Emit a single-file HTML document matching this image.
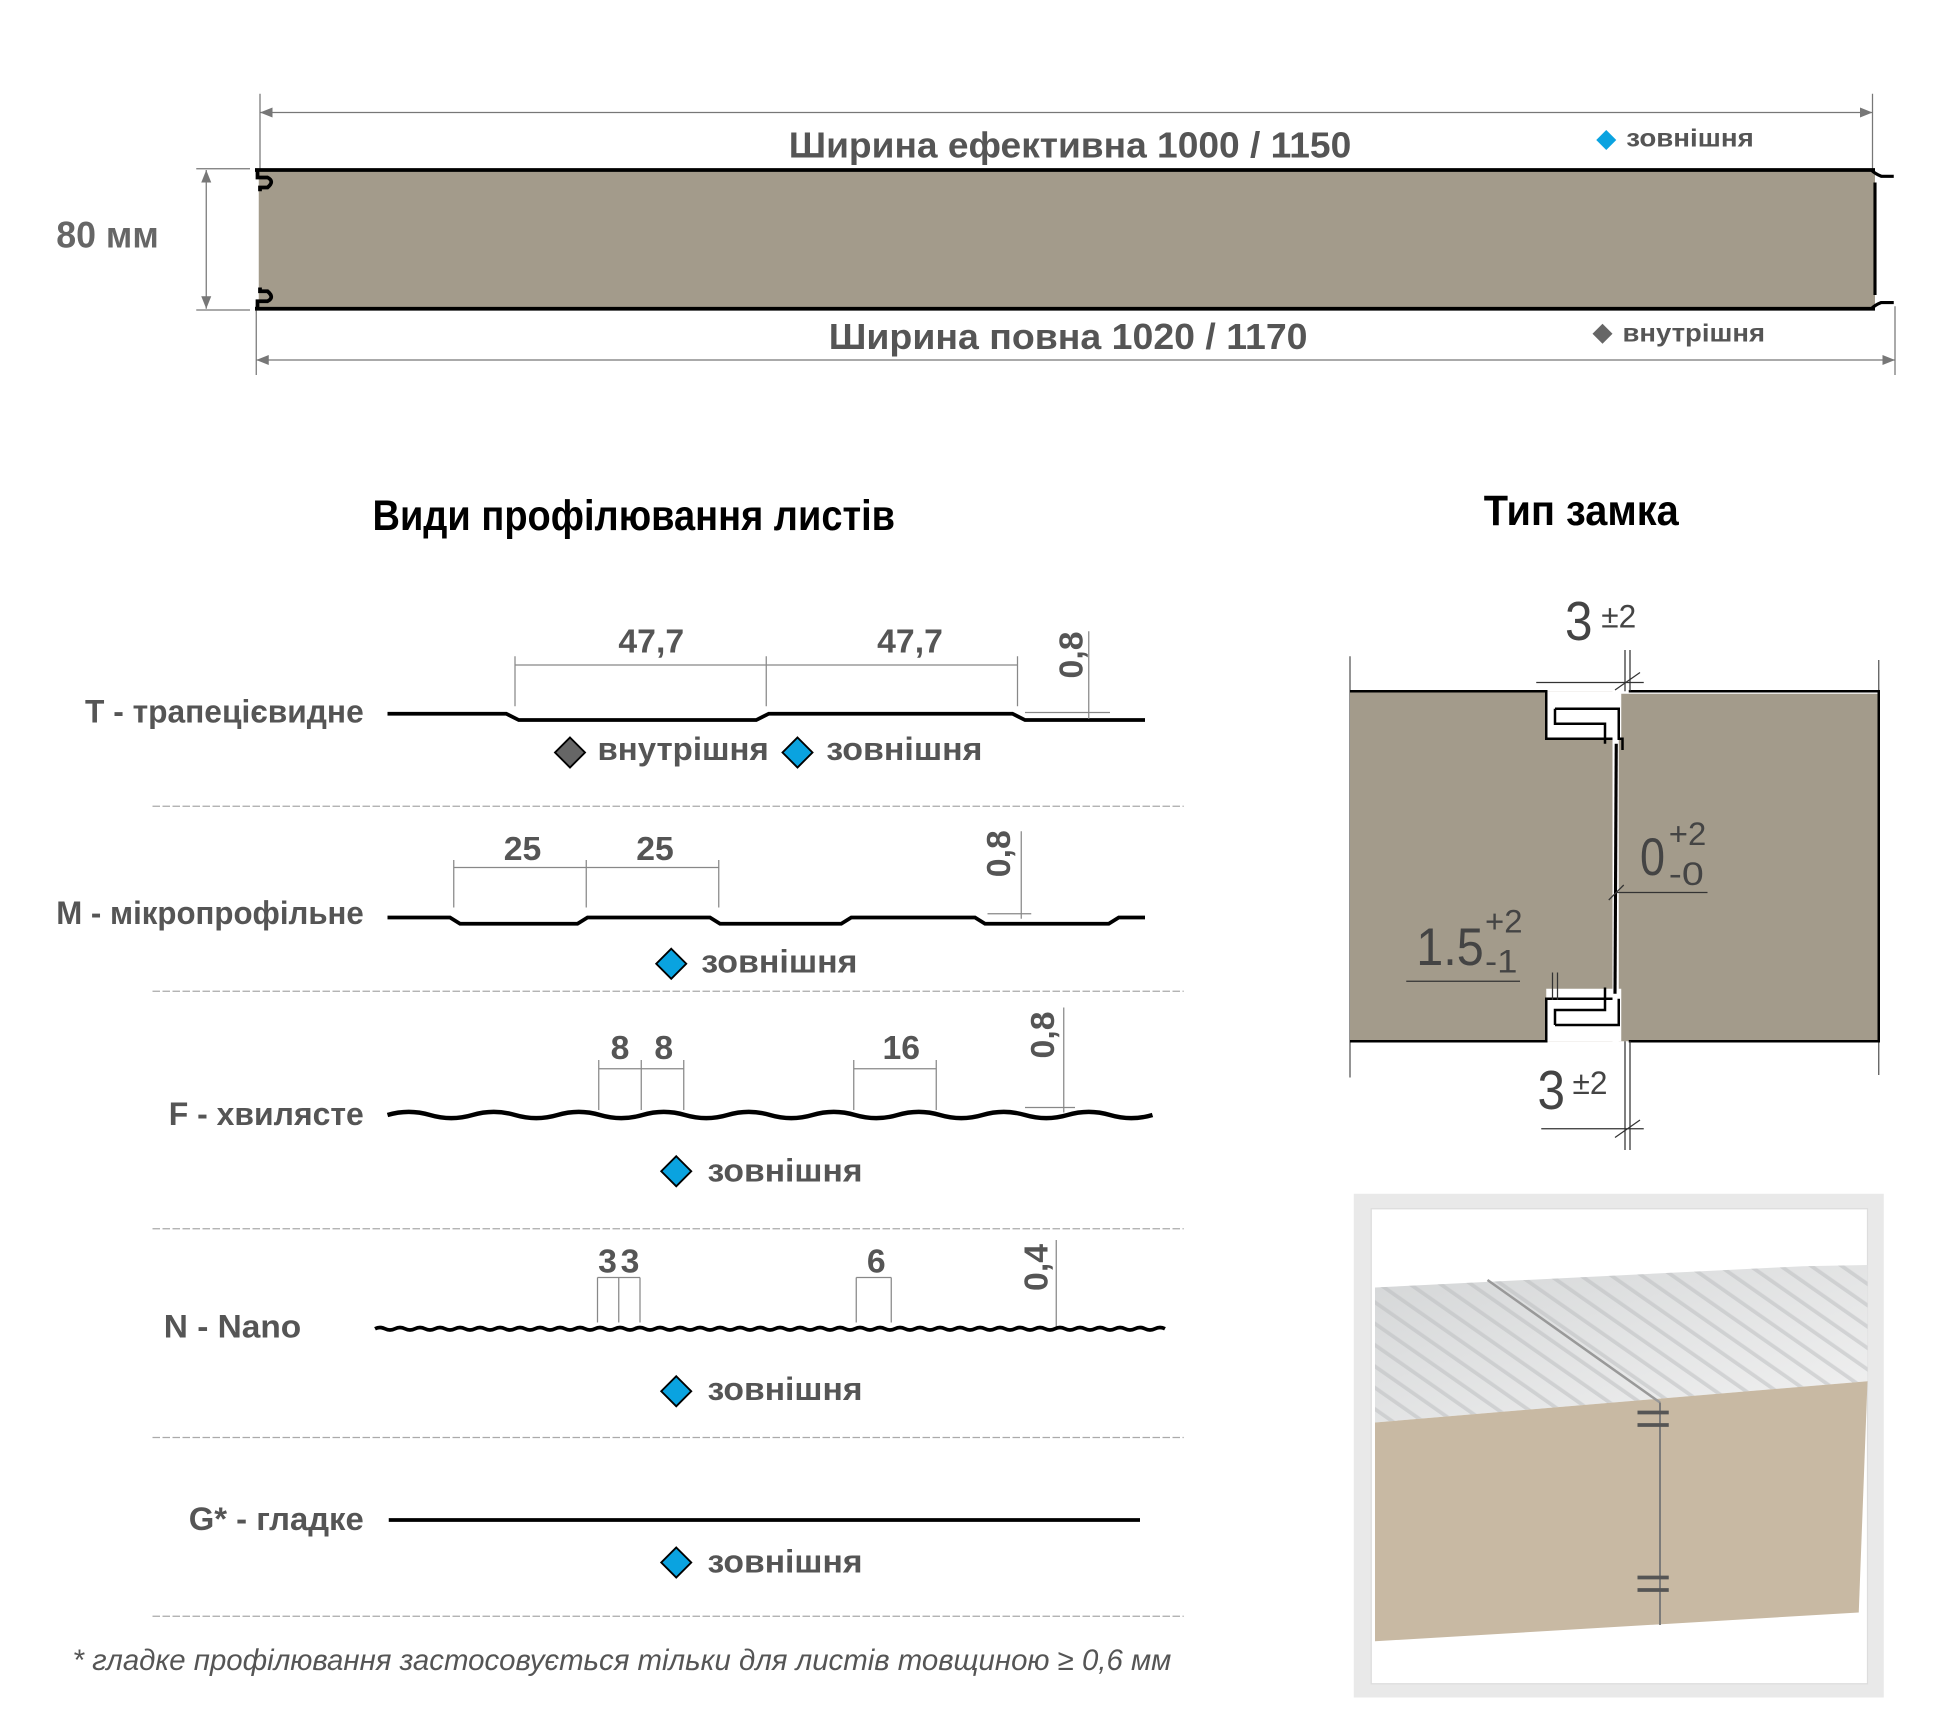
<!DOCTYPE html>
<html><head><meta charset="utf-8"><style>
html,body{margin:0;padding:0;background:#fff;}
svg{display:block;}
text{font-family:"Liberation Sans",sans-serif;}
</style></head><body>
<svg width="1940" height="1735" viewBox="0 0 1552 1388" xmlns="http://www.w3.org/2000/svg">
<defs>
<linearGradient id="top" x1="0" y1="0" x2="1" y2="1"><stop offset="0" stop-color="#d4d6d7"/><stop offset="1" stop-color="#f2f2f2"/></linearGradient>
<pattern id="stripe" width="14" height="14" patternUnits="userSpaceOnUse" patternTransform="rotate(-55)"><rect width="3" height="14" fill="#b9bbbd" opacity="0.5"/></pattern>
</defs>
<!-- TOP PANEL -->
<g stroke="#777" stroke-width="1" fill="none">
<line x1="208" y1="90" x2="1498" y2="90"/><line x1="208" y1="75" x2="208" y2="155"/><line x1="1498" y1="75" x2="1498" y2="155"/>
<line x1="205" y1="288" x2="1516" y2="288"/><line x1="205" y1="245" x2="205" y2="300"/><line x1="1516" y1="245" x2="1516" y2="300"/>
<line x1="165" y1="136" x2="165" y2="247"/><line x1="157" y1="135" x2="200" y2="135"/><line x1="157" y1="248" x2="200" y2="248"/>
</g>
<g fill="#777">
<path d="M208 90 l10 -4 v8z"/><path d="M1498 90 l-10 -4 v8z"/>
<path d="M205 288 l10 -4 v8z"/><path d="M1516 288 l-10 -4 v8z"/>
<path d="M165 136 l-4 10 h8z"/><path d="M165 247 l-4 -10 h8z"/>
</g>
<rect x="207" y="136" width="1293" height="112" fill="#a39b8b"/>
<line x1="204" y1="136" x2="1500" y2="136" stroke="#000" stroke-width="3"/>
<line x1="204" y1="247" x2="1500" y2="247" stroke="#000" stroke-width="3"/>
<path d="M206 136 v6 h8 q6 3 0 8 h-6 v3" stroke="#000" stroke-width="3" fill="none"/>
<path d="M206 247 v-6 h8 q6 -3 0 -8 h-6 v-3" stroke="#000" stroke-width="3" fill="none"/>
<path d="M1497 136 q3 3 8 5 h10 M1500 146 v90 M1497 247 q3 -3 8 -5 h10" stroke="#000" stroke-width="2.5" fill="none"/>
<text x="631" y="126" font-size="29" font-weight="bold" fill="#555" textLength="450" lengthAdjust="spacingAndGlyphs">Ширина ефективна 1000 / 1150</text>
<text x="663" y="279" font-size="29" font-weight="bold" fill="#555" textLength="383" lengthAdjust="spacingAndGlyphs">Ширина повна 1020 / 1170</text>
<text x="45" y="198" font-size="30" font-weight="bold" fill="#666" textLength="82" lengthAdjust="spacingAndGlyphs">80 мм</text>
<path d="M1285 104 l8 8 -8 8 -8 -8z" fill="#0aa3e0"/>
<text x="1301" y="117" font-size="20" font-weight="bold" fill="#555" textLength="102" lengthAdjust="spacingAndGlyphs">зовнішня</text>
<path d="M1282 259 l8 8 -8 8 -8 -8z" fill="#666"/>
<text x="1298" y="273" font-size="20" font-weight="bold" fill="#555" textLength="114" lengthAdjust="spacingAndGlyphs">внутрішня</text>

<!-- TITLES -->
<text x="298" y="424" font-size="34" font-weight="bold" fill="#000" textLength="418" lengthAdjust="spacingAndGlyphs">Види профілювання листів</text>
<text x="1187" y="420" font-size="34" font-weight="bold" fill="#000" textLength="156" lengthAdjust="spacingAndGlyphs">Тип замка</text>

<!-- separators -->
<g stroke="#aaa" stroke-width="1" stroke-dasharray="6 2">
<line x1="122" y1="645" x2="947" y2="645"/><line x1="122" y1="793" x2="947" y2="793"/><line x1="122" y1="983" x2="947" y2="983"/><line x1="122" y1="1150" x2="947" y2="1150"/><line x1="122" y1="1293" x2="947" y2="1293"/>
</g>
<g font-size="26" font-weight="bold" fill="#555" lengthAdjust="spacingAndGlyphs">
<text x="68" y="578" textLength="223" lengthAdjust="spacingAndGlyphs">T - трапецієвидне</text>
<text x="45" y="739" textLength="246" lengthAdjust="spacingAndGlyphs">M - мікропрофільне</text>
<text x="135" y="900" textLength="156" lengthAdjust="spacingAndGlyphs">F - хвилясте</text>
<text x="131" y="1070" textLength="110" lengthAdjust="spacingAndGlyphs">N - Nano</text>
<text x="151" y="1224" textLength="140" lengthAdjust="spacingAndGlyphs">G* - гладке</text>
</g>
<!-- T profile -->
<path d="M310 571 H405 l10 5 H605 l10 -5 H810 l10 5 H916" stroke="#000" stroke-width="3" fill="none"/>
<g stroke="#888" stroke-width="1" fill="none">
<line x1="412" y1="532" x2="814" y2="532"/><line x1="412" y1="525" x2="412" y2="565"/><line x1="613" y1="525" x2="613" y2="565"/><line x1="814" y1="525" x2="814" y2="565"/>
<line x1="871" y1="505" x2="871" y2="575"/><line x1="820" y1="570" x2="888" y2="570"/>
<line x1="363" y1="694" x2="575" y2="694"/><line x1="363" y1="688" x2="363" y2="726"/><line x1="469" y1="688" x2="469" y2="726"/><line x1="575" y1="688" x2="575" y2="726"/>
<line x1="817" y1="665" x2="817" y2="735"/><line x1="790" y1="731" x2="825" y2="731"/>
<line x1="479" y1="855" x2="547" y2="855"/><line x1="479" y1="848" x2="479" y2="888"/><line x1="513" y1="848" x2="513" y2="888"/><line x1="547" y1="848" x2="547" y2="888"/>
<line x1="683" y1="855" x2="749" y2="855"/><line x1="683" y1="848" x2="683" y2="888"/><line x1="749" y1="848" x2="749" y2="888"/>
<line x1="851" y1="806" x2="851" y2="890"/><line x1="820" y1="886" x2="860" y2="886"/>
<line x1="478" y1="1022" x2="478" y2="1058"/><line x1="495" y1="1022" x2="495" y2="1058"/><line x1="512" y1="1022" x2="512" y2="1058"/><line x1="478" y1="1022" x2="512" y2="1022"/>
<line x1="685" y1="1022" x2="685" y2="1058"/><line x1="713" y1="1022" x2="713" y2="1058"/><line x1="685" y1="1022" x2="713" y2="1022"/>
<line x1="845" y1="992" x2="845" y2="1062"/>
</g>
<g font-size="27" font-weight="bold" fill="#555" text-anchor="middle">
<text x="521" y="522">47,7</text><text x="728" y="522">47,7</text>
<text x="418" y="688">25</text><text x="524" y="688">25</text>
<text x="496" y="847">8</text><text x="531" y="847">8</text><text x="721" y="847">16</text>
<text x="486" y="1018">3</text><text x="504" y="1018">3</text><text x="701" y="1018">6</text>
<text transform="translate(866 524) rotate(-90)">0,8</text>
<text transform="translate(808 683) rotate(-90)">0,8</text>
<text transform="translate(843 828) rotate(-90)">0,8</text>
<text transform="translate(838 1014) rotate(-90)">0,4</text>
</g>
<g stroke="#000" stroke-width="1.5"><path d="M456 590 l12 12 -12 12 -12 -12z" fill="#666"/><path d="M638 590 l12 12 -12 12 -12 -12z" fill="#0aa3e0"/>
<path d="M537 759 l12 12 -12 12 -12 -12z" fill="#0aa3e0"/>
<path d="M541 925 l12 12 -12 12 -12 -12z" fill="#0aa3e0"/>
<path d="M541 1101 l12 12 -12 12 -12 -12z" fill="#0aa3e0"/>
<path d="M541 1238 l12 12 -12 12 -12 -12z" fill="#0aa3e0"/></g>
<g font-size="26" font-weight="bold" fill="#555">
<text x="478" y="608" textLength="137" lengthAdjust="spacingAndGlyphs">внутрішня</text><text x="661" y="608" textLength="125" lengthAdjust="spacingAndGlyphs">зовнішня</text>
<text x="561" y="778" textLength="125" lengthAdjust="spacingAndGlyphs">зовнішня</text><text x="566" y="945" textLength="124" lengthAdjust="spacingAndGlyphs">зовнішня</text><text x="566" y="1120" textLength="124" lengthAdjust="spacingAndGlyphs">зовнішня</text><text x="566" y="1258" textLength="124" lengthAdjust="spacingAndGlyphs">зовнішня</text>
</g>
<!-- M -->
<path d="M310 734 H360 l8 5 H462 l8 -5 H568 l8 5 H673 l8 -5 H780 l8 5 H887 l8 -5 H916" stroke="#000" stroke-width="3" fill="none"/>
<!-- F -->
<path d="M310 892 q17 -5 34 0 t34 0 t34 0 t34 0 t34 0 t34 0 t34 0 t34 0 t34 0 t34 0 t34 0 t34 0 t34 0 t34 0 t34 0 t34 0 t34 0 t34 0" stroke="#000" stroke-width="3.5" fill="none"/>
<!-- N -->
<path d="M300 1063 q4 -2 8 0 t8 0 t8 0 t8 0 t8 0 t8 0 t8 0 t8 0 t8 0 t8 0 t8 0 t8 0 t8 0 t8 0 t8 0 t8 0 t8 0 t8 0 t8 0 t8 0 t8 0 t8 0 t8 0 t8 0 t8 0 t8 0 t8 0 t8 0 t8 0 t8 0 t8 0 t8 0 t8 0 t8 0 t8 0 t8 0 t8 0 t8 0 t8 0 t8 0 t8 0 t8 0 t8 0 t8 0 t8 0 t8 0 t8 0 t8 0 t8 0 t8 0 t8 0 t8 0 t8 0 t8 0 t8 0 t8 0 t8 0 t8 0 t8 0 t8 0 t8 0 t8 0 t8 0 t8 0 t8 0 t8 0 t8 0 t8 0 t8 0 t8 0 t8 0 t8 0 t8 0 t8 0 t8 0 t8 0 t8 0 t8 0 t8 0" stroke="#000" stroke-width="3" fill="none"/>
<!-- G -->
<line x1="311" y1="1216" x2="912" y2="1216" stroke="#000" stroke-width="3"/>
<text x="58" y="1336" font-size="24" font-style="italic" fill="#555" textLength="879" lengthAdjust="spacingAndGlyphs">* гладке профілювання застосовується тільки для листів товщиною ≥ 0,6 мм</text>

<!-- LOCK -->
<g stroke="#555" stroke-width="1" fill="none">
<line x1="1080" y1="525" x2="1080" y2="862"/><line x1="1503" y1="528" x2="1503" y2="860"/>
</g>
<rect x="1080" y="553" width="210" height="280" fill="#a39b8b"/>
<rect x="1295" y="555" width="208" height="278" fill="#a39b8b"/>
<rect x="1237" y="553" width="60" height="38" fill="#fff"/>
<rect x="1237" y="791" width="60" height="42" fill="#fff"/>
<path d="M1080 553 H1237 V591 H1290 M1303 553 H1503 V833 H1303 M1080 833 H1237 V799 H1290" stroke="#000" stroke-width="2" fill="none"/>
<path d="M1244 567 H1295 V591 H1298 V600 M1244 567 v12 h40 v16" stroke="#000" stroke-width="2" fill="none"/>
<path d="M1244 820 H1295 V799 M1244 820 v-12 h40 v-18" stroke="#000" stroke-width="2" fill="none"/>
<line x1="1293" y1="595" x2="1292" y2="795" stroke="#000" stroke-width="2.5"/>
<g stroke="#333" stroke-width="1">
<line x1="1229" y1="546" x2="1315" y2="546"/><line x1="1300" y1="520" x2="1300" y2="553"/><line x1="1304" y1="520" x2="1304" y2="553"/><line x1="1292" y1="552" x2="1312" y2="538"/>
<line x1="1233" y1="903" x2="1315" y2="903"/><line x1="1300" y1="833" x2="1300" y2="920"/><line x1="1304" y1="833" x2="1304" y2="920"/><line x1="1292" y1="910" x2="1312" y2="896"/>
<line x1="1293" y1="714" x2="1366" y2="714"/><line x1="1287" y1="720" x2="1299" y2="708"/>
<line x1="1125" y1="785" x2="1216" y2="785"/><line x1="1242" y1="778" x2="1242" y2="800"/><line x1="1246" y1="778" x2="1246" y2="800"/>
</g>
<g fill="#444">
<text x="1252" y="512" font-size="44" textLength="22" lengthAdjust="spacingAndGlyphs">3</text><text x="1281" y="502" font-size="26" textLength="28" lengthAdjust="spacingAndGlyphs">±2</text>
<text x="1230" y="887" font-size="44" textLength="22" lengthAdjust="spacingAndGlyphs">3</text><text x="1258" y="875" font-size="26" textLength="28" lengthAdjust="spacingAndGlyphs">±2</text>
<text x="1312" y="700" font-size="42" textLength="20" lengthAdjust="spacingAndGlyphs">0</text><text x="1335" y="676" font-size="26" textLength="30" lengthAdjust="spacingAndGlyphs">+2</text><text x="1335" y="708" font-size="26" textLength="28" lengthAdjust="spacingAndGlyphs">-0</text>
<text x="1133" y="772" font-size="42" textLength="54" lengthAdjust="spacingAndGlyphs">1.5</text><text x="1188" y="746" font-size="26" textLength="30" lengthAdjust="spacingAndGlyphs">+2</text><text x="1188" y="778" font-size="26" textLength="26" lengthAdjust="spacingAndGlyphs">-1</text>
</g>

<!-- PHOTO -->
<rect x="1083" y="955" width="424" height="403" fill="#e9e9e9"/>
<rect x="1097" y="967" width="397" height="380" fill="#fff" stroke="#ddd"/>
<polygon points="1100,1030 1442,1013 1494,1012 1494,1105 1100,1138" fill="url(#top)"/>
<polygon points="1100,1030 1442,1013 1494,1012 1494,1105 1100,1138" fill="url(#stripe)"/>
<polygon points="1100,1138 1494,1105 1487,1290 1100,1313" fill="#c8b9a3"/>
<line x1="1190" y1="1024" x2="1328" y2="1122" stroke="#999" stroke-width="2"/>
<line x1="1328" y1="1122" x2="1328" y2="1300" stroke="#777" stroke-width="1.5"/>
<path d="M1310 1130 h25 M1310 1140 h25 M1310 1262 h25 M1310 1272 h25" stroke="#555" stroke-width="3"/>
</svg>
</body></html>
